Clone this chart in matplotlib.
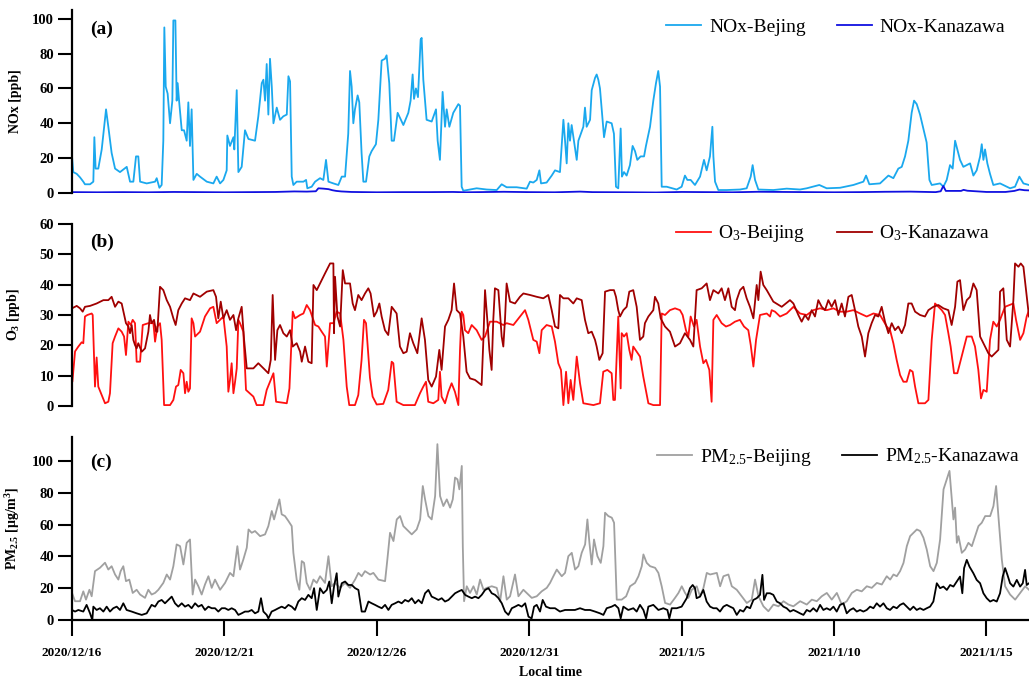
import numpy as np
import matplotlib
matplotlib.use("Agg")
import matplotlib.pyplot as plt
import matplotlib.dates as mdates
from matplotlib.ticker import FixedLocator, FuncFormatter

plt.rcParams['font.family'] = ['Liberation Serif', 'DejaVu Serif']
plt.rcParams['mathtext.fontset'] = 'custom'
plt.rcParams['mathtext.rm'] = 'Liberation Serif'
plt.rcParams['mathtext.bf'] = 'Liberation Serif:bold'
plt.rcParams['mathtext.it'] = 'Liberation Serif:italic'

START = '2020-12-16T00:00'
END_HOURS = 753.5
TICK_DAYS = [0, 5, 10, 15, 20, 25, 30]

# ---------------- NOx (ppb) ----------------
nox_bj_h = [0, 1.0, 3.7, 6.3, 8.9, 10.2, 14.2, 16.8, 17.6, 18.6, 20.7, 23.4, 26.8, 28.6, 31.2, 33.9, 37.8, 43.1,
            45.7, 48.3, 50.4, 52.2, 53.6, 58.8, 65.4, 66.7, 68.8, 70.6, 71.9, 72.7, 73.8, 75.3, 77.2, 79.0, 79.8,
            81.4, 82.4, 83.2, 84.3, 86.4, 88.2, 90.3, 91.6, 92.9, 94.2, 95.6, 98.2, 100.8, 106.1, 111.3, 113.9,
            116.6, 119.2, 121.8, 122.3, 124.4, 127.1, 127.8, 129.7, 131.0, 133.6, 136.2, 138.9, 144.1, 146.7,
            149.4, 150.7, 152.0, 153.3, 154.6, 155.9, 157.3, 158.6, 161.2, 163.8, 166.4, 169.1, 170.4, 171.7,
            173.0, 174.3, 176.9, 182.2, 184.3, 185.3, 188.7, 191.4, 195.3, 197.9, 200.0, 201.9, 205.8, 209.7,
            212.4, 215.0, 217.5, 218.9, 220.2, 221.5, 222.8, 224.9, 226.2, 228.0, 229.4, 231.5, 234.1, 235.9,
            239.3, 241.2, 243.8, 246.4, 247.7, 249.8, 251.7, 253.5, 256.4, 260.9, 264.8, 266.6, 268.2, 269.3,
            270.8, 272.4, 274.5, 275.3, 276.6, 279.2, 283.2, 286.6, 287.9, 289.7, 291.8, 293.7, 295.0, 297.1,
            300.2, 304.2, 305.5, 306.8, 308.1, 313.4, 318.6, 326.5, 334.4, 338.3, 342.2, 350.1, 358.0, 360.6,
            363.2, 365.9, 368.0, 369.3, 373.7, 377.7, 380.3, 384.2, 386.9, 388.2, 389.5, 390.8, 392.1, 393.4,
            397.4, 398.7, 402.6, 403.9, 405.2, 407.9, 409.2, 411.8, 413.1, 414.4, 415.7, 418.9, 421.0, 424.9,
            426.7, 428.3, 430.1, 432.0, 433.0, 434.6, 436.7, 439.3, 441.4, 443.3, 445.1, 447.7, 450.4, 451.9,
            455.1, 457.7, 459.8, 461.6, 463.0, 464.3, 468.2, 476.1, 480.0, 482.6, 484.5, 487.1, 490.5, 494.5,
            497.6, 499.7, 502.3, 504.2, 505.0, 506.3, 508.9, 515.5, 526.0, 531.2, 534.4, 535.9, 537.8, 540.4,
            552.2, 562.7, 573.2, 578.5, 588.4, 594.2, 604.7, 615.2, 623.1, 625.2, 627.8, 636.2, 642.8, 646.7,
            650.6, 653.3, 655.9, 658.5, 661.1, 663.0, 665.1, 667.7, 670.9, 672.9, 675.1, 676.9, 683.5, 686.1,
            688.7, 691.3, 693.4, 695.3, 697.1, 699.2, 701.8, 704.5, 707.1, 709.7, 712.3, 715.0, 716.3, 717.6,
            718.9, 720.7, 722.8, 725.4, 730.7, 738.6, 742.5, 745.9, 749.1, 753.5]
nox_bj = [21, 12, 11, 9, 6.5, 5, 5, 6.5, 32, 14, 14, 25, 48, 38, 23, 14, 12, 15,
          6.5, 6.5, 21, 21, 6.5, 5.5, 6.5, 8.5, 3, 4.6, 30, 95, 61, 57, 40, 53, 99,
          99, 53, 63, 53, 36, 36, 30, 52, 27, 48, 7.5, 11, 9.4, 6.5, 5.5, 9.4,
          5.5, 7.5, 13, 33, 27, 32, 25, 59, 12, 15, 36, 31, 30, 44,
          63, 65, 53, 74, 45, 77, 61, 40, 49, 42, 44, 45, 67, 64,
          9.4, 4.6, 6.5, 6.5, 7.5, 2.7, 3.6, 6.5, 8.5, 7.5, 19, 6.5, 5.5, 4.6,
          9.4, 9.4, 34, 70, 61, 40, 48, 56, 52, 23, 6.5, 6.5, 21, 24,
          28, 42, 76, 77, 79, 63, 30, 30, 46, 39, 46, 53, 68, 54,
          60, 55, 88, 89, 65, 42, 41, 48, 30, 19, 58, 38, 48, 38,
          46, 51, 50, 3.6, 1.3, 2, 2.7, 2, 1.7, 5, 3.3, 3.3, 2.5, 6.5,
          6, 7.5, 13, 5.5, 6, 10, 13, 12, 42, 30, 17, 40, 30, 39,
          19, 30, 38, 49, 38, 42, 59, 66, 68, 65, 60, 32, 41, 40,
          34, 3.6, 2.7, 37, 9.4, 12, 10, 16, 27, 24, 19, 21, 21, 27,
          38, 53, 63, 70, 61, 3.6, 3.6, 2, 3.6, 10, 7.5, 7.5, 4.6, 9.4,
          19, 13, 21, 38, 21, 6.5, 1.7, 1.7, 2, 2.7, 9.4, 16, 7.5, 2,
          1.7, 2.5, 2, 2.7, 4.6, 2.7, 3, 4.6, 6.5, 10, 5, 5.5, 10, 8.5,
          14, 15, 21, 30, 46, 53, 51, 45, 35, 29, 7.5, 4.6, 5.5, 3.6,
          7.5, 16, 14, 30, 25, 19, 15, 16, 17, 10, 13, 21, 28, 19,
          25, 17, 11, 4.6, 5.5, 2.7, 3.6, 9.4, 5.5, 4.6]

nox_kz_h = [0, 20, 40, 60, 80, 100, 120, 140, 160, 175, 185, 192, 194, 198, 202, 205, 208, 212, 220, 240, 260,
            280, 300, 310, 340, 360, 380, 400, 410, 440, 460, 480, 500, 520, 540, 560, 580, 600, 620, 640, 660,
            680, 684, 686, 688, 700, 702, 705, 720, 735, 742, 746, 750, 753.5]
nox_kz = [0.5, 0.4, 0.5, 0.4, 0.6, 0.5, 0.4, 0.5, 0.6, 0.9, 0.8, 1.0, 2.7, 2.5, 2.2, 1.6, 1.2, 0.9, 0.6, 0.4, 0.5,
          0.5, 0.6, 0.4, 0.7, 0.5, 0.4, 0.8, 0.5, 0.4, 0.3, 0.6, 0.5, 0.4, 0.7, 0.6, 0.5, 0.4, 0.5, 0.7, 0.8,
          0.5, 1.0, 4.0, 1.2, 1.2, 1.8, 1.3, 0.6, 0.6, 1.2, 2.0, 1.6, 1.5]

# ---------------- O3 (ppb) ----------------
o3_bj_h = [0, 0.3, 2.4, 5.0, 7.6, 8.9, 10.2, 12.1, 15.5, 16.3, 18.1, 19.4, 20.7, 23.4, 26.0, 28.6, 29.9, 32.0,
           33.9, 36.5, 39.1, 41.0, 42.5, 44.4, 46.2, 47.8, 49.6, 50.9, 53.6, 55.7, 60.1, 64.1, 65.4, 67.2, 69.3,
           70.6, 72.5, 77.2, 79.8, 81.9, 83.7, 85.6, 87.7, 89.0, 90.3, 91.6, 92.9, 94.2, 95.6, 96.9, 100.8,
           104.7, 108.7, 111.3, 112.6, 113.9, 116.6, 119.2, 121.8, 123.1, 124.4, 125.7, 127.1, 128.4, 129.7,
           131.0, 132.3, 134.9, 137.0, 142.8, 145.4, 150.7, 153.3, 155.9, 158.6, 160.7, 169.1, 171.2, 173.8,
           175.6, 179.6, 182.2, 184.8, 187.4, 191.4, 194.0, 196.6, 199.2, 200.6, 203.2, 205.8, 208.4, 211.1,
           213.7, 216.3, 218.3, 222.8, 225.4, 228.0, 229.9, 231.5, 234.6, 236.7, 239.9, 245.1, 249.0, 251.7,
           253.0, 255.6, 260.9, 270.0, 274.0, 276.6, 278.7, 280.5, 284.5, 288.4, 289.7, 291.0, 293.7, 296.3,
           298.9, 301.5, 304.2, 305.5, 306.8, 308.1, 309.4, 312.0, 314.7, 318.6, 322.5, 325.2, 329.1, 334.4,
           339.6, 342.2, 347.5, 352.7, 356.7, 359.3, 363.2, 365.9, 368.0, 369.8, 373.7, 377.7, 380.3, 382.9,
           385.0, 386.9, 389.0, 390.8, 392.6, 394.7, 397.4, 400.0, 402.6, 410.5, 415.7, 418.3, 421.5, 424.9,
           426.2, 427.5, 430.1, 432.0, 432.8, 434.6, 436.7, 438.8, 440.6, 441.9, 444.6, 447.2, 449.8, 453.8,
           457.7, 463.0, 464.3, 466.9, 470.8, 474.8, 478.7, 480.8, 483.4, 485.3, 487.1, 489.7, 491.8, 494.5,
           497.1, 499.2, 501.8, 503.6, 505.0, 507.6, 511.5, 514.9, 518.1, 522.0, 525.9, 529.1, 532.5, 534.4,
           536.5, 538.6, 541.7, 547.0, 549.6, 550.9, 553.5, 557.5, 562.7, 568.0, 573.2, 578.5, 583.7, 589.0,
           594.2, 599.5, 604.7, 610.0, 615.2, 620.5, 625.7, 631.0, 636.2, 641.5, 644.1, 646.7, 649.3, 652.0,
           654.6, 657.2, 659.8, 661.9, 663.8, 666.4, 671.6, 674.3, 676.9, 679.5, 682.1, 684.8, 687.4, 690.0,
           691.8, 694.5, 697.1, 700.5, 704.5, 708.4, 711.0, 713.6, 715.7, 717.6, 720.2, 722.8, 725.4, 728.1,
           730.7, 734.6, 741.2, 743.3, 746.5, 749.1, 751.7, 753.5]
o3_bj = [15.2, 8, 18, 19.6, 21, 20.7, 29.5, 30, 30.5, 30, 6.4, 16, 6.4, 3.6, 0.9, 1.4, 4.2, 20.7,
         22.9, 25.6, 24.5, 22.9, 16.8, 27.8, 26.7, 28.4, 27.3, 14.6, 14.6, 26.7, 27.3, 27.3, 21.2, 26.2, 27.3,
         21.8, 0.3, 0.3, 2, 6.4, 6.9, 11.9, 10.8, 4.2, 8, 4.7, 5.8, 28.9, 27.3, 22.9, 24.5,
         29.5, 32.2, 32.7, 30, 27.3, 28.4, 29.5, 19.6, 4.7, 8.6, 14.1, 4.2, 8, 12.4,
         28.4, 27.3, 24.5, 5.3, 3.1, 0.3, 0.3, 5.3, 8, 10.8, 1.4, 0.9, 5.8, 31.1,
         28.9, 30, 30.5, 33.3, 31.6, 26.7, 26.2, 24.5, 22.9, 13, 27.3, 27.3, 31.1, 30.5,
         21.8, 6.4, 0.3, 0.3, 3.6, 15.2, 28.4, 27.3, 9.3, 3.1, 0.5, 0.7, 5.3, 14.6,
         14.1, 1.4, 0.3, 0.3, 4.2, 6.4, 8, 1.4, 0.9, 2, 11.3, 3.1, 0.9, 4.7,
         7.5, 4.7, 0.3, 18.5, 31.1, 30, 25, 24, 26.7, 25, 21.8, 22.9, 27.8, 27.8,
         26.7, 27.3, 26.7, 29.5, 31.6, 28.4, 21.8, 21.2, 17.4, 25, 26.7, 26.2, 21.2, 14.1,
         11.9, 0.3, 11.3, 0.9, 8.6, 2, 16.3, 7.5, 0.9, 0.3, 0.9, 11.3, 11.9, 10.8,
         2, 2, 29.5, 5.8, 24, 22.9, 24, 18.5, 15.2, 19.6, 17.9, 16.3, 9.7, 0.9,
         0.3, 0.3, 30.5, 30, 31.6, 32.2, 31.6, 30, 25, 22.9, 29.5, 26.2, 28.4, 19.6,
         14.1, 15.2, 11.9, 1.4, 28.4, 30, 27.3, 26.2, 26.7, 27.8, 28.4, 26.2, 25, 20.1,
         13, 21.8, 30, 30.5, 29.5, 31.6, 31.1, 29.5, 30.5, 32.7, 30.5, 30, 31.6, 32.2,
         31.6, 32.2, 31.1, 31.1, 31.6, 30.5, 29.5, 30.5, 30, 26.2, 25, 20.7, 15.2, 10.2,
         8, 8, 11.9, 11.3, 6.4, 0.9, 0.9, 2, 21.8, 33.8, 32.7, 31.6, 30, 24,
         19.6, 10.8, 10.8, 16.3, 22.9, 22.9, 19.6, 11.9, 2.5, 5.3, 4.7, 21.8, 27.8, 26.2,
         28.4, 32.7, 33.8, 28.4, 21.8, 24, 29.5, 31.6]

o3_kz_h = [0, 3.7, 6.3, 8.4, 10.2, 14.2, 19.4, 24.7, 28.6, 31.2, 33.9, 36.5, 39.1, 42.5, 44.4, 45.7, 47.0, 48.3,
           49.6, 50.9, 52.2, 54.9, 57.5, 60.1, 61.4, 62.7, 64.6, 66.2, 67.2, 69.3, 71.9, 74.6, 77.2, 79.8, 81.6,
           83.7, 86.4, 89.0, 92.9, 95.6, 100.8, 106.1, 111.3, 113.4, 115.2, 117.1, 119.2, 121.8, 124.4, 127.1,
           129.2, 131.0, 133.6, 135.5, 137.6, 142.8, 146.7, 149.4, 152.0, 154.6, 156.5, 158.0, 159.9, 161.7,
           163.8, 166.4, 169.1, 171.7, 173.8, 176.9, 179.6, 180.9, 183.5, 186.1, 188.7, 190.1, 192.7, 195.3,
           199.2, 203.2, 205.8, 206.3, 207.1, 209.0, 211.1, 213.2, 215.0, 218.9, 221.0, 222.8, 225.4, 228.0,
           230.7, 233.3, 235.1, 237.8, 239.9, 242.0, 243.8, 246.4, 249.0, 251.7, 255.6, 258.2, 260.9, 263.5,
           266.1, 268.7, 271.9, 275.3, 277.9, 280.5, 283.2, 286.6, 289.2, 291.0, 293.7, 296.3, 298.9, 300.8,
           302.9, 305.5, 308.1, 310.7, 313.4, 317.3, 322.5, 323.9, 325.2, 327.0, 328.6, 330.4, 331.7, 333.0,
           335.7, 338.3, 339.6, 340.9, 342.2, 344.9, 348.8, 352.7, 355.4, 360.6, 365.9, 371.1, 375.0, 377.7,
           380.3, 382.9, 384.2, 386.9, 390.8, 394.7, 397.4, 401.3, 403.9, 406.5, 409.2, 411.8, 413.1, 415.2,
           417.8, 419.7, 423.6, 426.7, 428.3, 430.1, 431.5, 434.1, 436.7, 438.8, 441.9, 444.6, 447.2, 449.8,
           451.1, 453.8, 457.7, 459.0, 461.6, 463.5, 466.9, 470.8, 474.8, 478.7, 482.6, 486.6, 489.2, 491.8,
           495.8, 499.7, 502.3, 505.0, 508.9, 511.5, 514.1, 516.8, 519.4, 522.0, 523.3, 526.0, 528.6, 531.2,
           533.8, 536.5, 539.1, 540.4, 542.2, 544.3, 547.0, 552.2, 558.8, 565.3, 568.0, 571.9, 574.5, 577.1,
           579.8, 582.4, 585.0, 587.6, 590.3, 592.9, 595.5, 598.1, 600.8, 603.4, 606.0, 608.6, 611.3, 613.9,
           616.5, 619.1, 621.8, 624.4, 627.0, 629.6, 632.3, 634.9, 637.5, 640.1, 642.8, 645.4, 648.0, 650.6,
           653.3, 655.9, 658.5, 661.1, 663.8, 667.7, 671.6, 674.3, 678.2, 682.1, 686.1, 690.0, 692.6, 695.3,
           697.1, 699.2, 701.8, 704.5, 707.1, 709.7, 712.3, 715.0, 717.6, 721.5, 724.1, 726.8, 729.4, 730.7,
           733.3, 736.0, 738.6, 741.2, 742.5, 745.2, 747.0, 749.1, 751.2, 753.5]
o3_kz = [32.2, 33, 32.2, 31.1, 32.7, 33, 33.8, 34.9, 34.9, 36, 32.7, 34.4, 33.8, 27.3, 26.2, 24, 26.7, 21.8,
         20.1, 19, 20.7, 17.9, 19, 24.5, 30, 27.3, 28.4, 24.5, 24.5, 39.3, 38.2, 34.9, 32.7, 28.9, 26.7,
         31.6, 33.8, 35.5, 34.9, 37.1, 36, 37.7, 38.2, 36, 28.9, 34.4, 28.9, 31.6, 28.4, 30,
         25, 28.9, 32.7, 21.8, 12.4, 12.4, 14.1, 13, 11.9, 10.8, 15.2, 36.6, 15.2, 25,
         26.7, 24, 22.9, 25, 19.6, 20.7, 17.9, 14.6, 19.6, 14.6, 14.1, 39.9, 38.2, 40.4,
         43.7, 47, 47, 24, 42.6, 29.5, 26.2, 44.8, 40.4, 40.4, 33.8, 31.6, 36.6, 34.9,
         37.1, 38.8, 37.1, 29.5, 31.1, 33.8, 29.5, 25, 23.4, 32.7, 30.5, 19.6, 17.4, 17.9,
         24, 20.7, 17.4, 28.9, 21.8, 8.6, 6.4, 9.7, 18.5, 11.9, 26.2, 28.4, 31.6, 40.4,
         31.6, 30.5, 22.9, 11.3, 9.1, 8.6, 6.9, 21.8, 38.2, 28.4, 18.5, 11.9, 28.4, 38.8,
         38.2, 22.9, 19.6, 28.4, 40.4, 34.4, 33.8, 36, 37.1, 36.6, 36, 35.5, 36.6, 31.6,
         26.2, 25.6, 36.6, 35.5, 35.5, 33.8, 35.5, 34.9, 28.4, 24, 24.5, 21.8, 19.6, 15.2,
         17.4, 37.7, 38.2, 38.2, 36, 31.6, 29.5, 31.6, 32.7, 37.7, 38.2, 32.7, 21.8, 22.9,
         27.3, 29.5, 31.6, 36, 33.8, 28.9, 26.2, 24.5, 19.6, 20.7, 24, 21.8, 19.6, 38.2,
         38.8, 40.4, 34.9, 38.2, 37.1, 38.8, 34.9, 38.8, 32.7, 31.6, 34.9, 38.2, 39.3, 35.5,
         32.7, 28.9, 39.9, 34.9, 44.3, 39.9, 38.2, 34.4, 32.7, 34.9, 33.8, 30, 27.8, 30,
         28.4, 31.6, 29.5, 34.9, 32.7, 31.6, 34.9, 32.7, 34.9, 30, 33.8, 29.5, 36, 36.6,
         31.6, 26.2, 22.9, 16.3, 24, 27.3, 30, 29.5, 32.7, 27.8, 24, 27.3, 25, 26.2,
         24, 26.7, 33.8, 33.8, 31.1, 30, 29.5, 31.6, 32.7, 33.3, 32.2, 31.6, 26.7, 32.7,
         41, 41.5, 31.6, 34.9, 36, 40.4, 38.2, 22.9, 20.7, 17.4, 16.3, 17.4, 18.5, 37.7,
         38.8, 21.8, 19.6, 34.9, 47, 45.9, 47, 45.9, 38.2, 29.5]

# ---------------- PM2.5 (ug/m3) ----------------
pm_bj_h = [0, 2.4, 6.3, 8.9, 11.0, 13.7, 15.5, 18.1, 22.0, 26.0, 28.6, 31.2, 33.9, 36.5, 38.3, 40.4, 42.5, 45.1,
           47.8, 50.9, 53.6, 57.5, 60.1, 62.7, 65.4, 68.0, 71.9, 74.6, 77.2, 79.8, 82.4, 85.1, 87.7, 90.3, 92.9,
           95.0, 96.9, 99.5, 102.1, 104.7, 107.4, 110.0, 112.6, 116.6, 120.5, 124.4, 127.1, 130.2, 132.3, 134.9,
           137.6, 139.0, 141.5, 144.1, 148.1, 152.0, 154.6, 157.3, 159.1, 161.2, 163.3, 165.1, 167.7, 170.4,
           173.0, 174.3, 176.9, 179.0, 180.9, 182.7, 184.8, 187.4, 190.1, 192.7, 195.3, 199.2, 201.9, 204.5,
           207.1, 211.1, 215.0, 218.9, 222.9, 225.5, 228.1, 230.7, 234.7, 237.3, 241.2, 246.5, 248.3, 250.4,
           253.1, 255.7, 258.3, 260.9, 263.6, 267.5, 271.4, 274.1, 276.2, 278.0, 280.6, 283.2, 285.9, 287.7,
           289.8, 292.4, 295.1, 297.7, 299.8, 301.6, 303.5, 305.0, 306.9, 307.7, 308.7, 310.8, 313.4, 316.1,
           318.7, 321.3, 324.0, 326.6, 330.5, 334.4, 337.1, 339.7, 342.3, 344.9, 348.8, 351.5, 355.4, 358.0,
           362.0, 365.9, 369.8, 373.8, 376.4, 379.0, 381.7, 385.6, 388.2, 390.8, 393.5, 396.1, 398.7, 401.3,
           404.0, 405.8, 407.4, 409.2, 411.0, 413.7, 416.3, 418.4, 419.7, 422.3, 425.0, 426.8, 428.9, 432.8,
           436.3, 439.4, 443.3, 446.0, 448.6, 449.9, 452.5, 455.2, 459.1, 461.7, 464.3, 467.0, 470.9, 474.8,
           477.5, 480.1, 482.7, 485.3, 488.0, 491.9, 494.5, 497.2, 499.8, 502.4, 507.7, 510.3, 512.9, 516.8,
           519.5, 523.4, 527.3, 531.3, 535.2, 537.8, 540.5, 544.4, 548.3, 552.3, 556.2, 560.2, 564.1, 568.0,
           573.3, 578.5, 582.5, 586.4, 590.3, 594.3, 598.2, 602.2, 606.1, 610.0, 614.0, 617.9, 621.8, 625.8,
           629.7, 633.7, 637.6, 641.5, 644.2, 646.8, 649.4, 652.0, 654.7, 657.3, 659.9, 662.5, 665.2, 667.8,
           670.4, 673.0, 675.7, 678.3, 680.9, 683.5, 686.2, 688.8, 690.9, 692.7, 694.0, 695.3, 696.7, 698.0,
           700.6, 703.2, 705.8, 708.5, 711.1, 713.7, 716.3, 719.0, 722.9, 725.5, 727.6, 729.4, 732.1, 734.7,
           738.6, 742.6, 746.5, 750.5, 753.5]
pm_bj = [17, 11.8, 11.8, 18, 12.8, 19, 14.9, 30.7, 32.8, 36, 31.7, 33.8, 28.6, 25.4, 30.7, 33.8, 24.4, 25.4,
         17, 19, 16, 13.9, 19, 16, 17, 19, 23.3, 28.6, 25.4, 33.8, 47.5, 46.4, 34.9, 48.5, 50.6,
         16, 25.4, 21.2, 16, 22.3, 27.5, 20.2, 25.4, 19, 23.3, 29.6, 27.5, 46.4, 31.7, 38,
         45.4, 56.9, 54.8, 55.9, 52.7, 53.8, 59, 68.5, 63.2, 69.5, 75.8, 66.4, 65.3, 62.2,
         59, 42.2, 25.4, 19, 37, 35.9, 23.3, 19, 25.4, 23.3, 27.5, 23.3, 40.1, 21.2,
         23.3, 20.2, 23.3, 20.2, 25.4, 29.6, 27.5, 30.7, 28.6, 29.6, 25.4, 24.4, 38, 54.8,
         49.6, 63.2, 65.3, 59, 56.9, 53.8, 56.9, 63.2, 84.2, 75.8, 65.3, 63.2, 77.9, 110.5,
         77.9, 71.6, 75.8, 70.6, 75.8, 89.5, 88.4, 82.1, 96.8, 46.4, 11.8, 21.2, 17, 21.2,
         16, 25.4, 19, 20.2, 21.2, 20.2, 11.8, 27.5, 12.8, 14.9, 28.6, 14.9, 19, 17,
         13.9, 14.9, 18, 20.2, 23.3, 27.5, 31.7, 27.5, 29.6, 40.1, 42.2, 31.7, 33.8, 42.2,
         47.5, 63.2, 48.5, 34.9, 50.6, 40.1, 35.9, 46.4, 67.4, 65.3, 64.3, 61.1, 12.8, 12.8,
         14.9, 21.2, 23.3, 27.5, 33.8, 41.2, 35.9, 33.8, 32.8, 29.6, 21.2, 10.7, 9.7, 13.9,
         17, 21.2, 17, 13.9, 19, 21.2, 14.9, 20.2, 29.6, 28.6, 29.6, 21.2, 27.5, 28.6,
         21.2, 19, 14.9, 10.7, 12.8, 25.4, 14.9, 8.6, 5.5, 9.7, 8.6, 11.8, 9.7, 8.6,
         11.8, 9.7, 12.8, 11.8, 14.9, 17, 12.8, 17, 9.7, 11.8, 17, 19, 18, 21.2,
         20.2, 23.3, 22.3, 27.5, 25.4, 28.6, 27.5, 30.7, 35.9, 46.4, 52.7, 54.8, 56.9, 55.9,
         51.7, 44.3, 33.8, 30.7, 35.9, 50.6, 82.1, 88.4, 93.7, 75.8, 63.2, 70.6, 48.5, 52.7,
         42.2, 44.3, 48.5, 46.4, 52.7, 59, 61.1, 65.3, 65.3, 71.6, 84.2, 65.3, 38, 21.2,
         16, 12.8, 17, 21.2, 19]

pm_kz_h = [0, 2.4, 5.0, 8.9, 11.5, 14.2, 16.0, 16.8, 19.4, 22.0, 24.7, 27.3, 29.9, 32.5, 35.2, 37.8, 40.4, 43.0,
           47.0, 50.9, 54.9, 58.8, 62.7, 65.4, 68.0, 70.6, 73.2, 75.9, 78.5, 81.1, 83.7, 86.4, 89.0, 91.6, 94.2,
           96.9, 99.5, 102.1, 104.7, 107.4, 110.0, 112.6, 115.2, 117.9, 120.5, 123.1, 125.7, 128.4, 131.0, 133.6,
           136.2, 138.9, 141.5, 144.1, 146.7, 148.8, 150.7, 153.3, 154.6, 157.2, 159.9, 162.5, 165.1, 167.7,
           170.4, 173.0, 175.6, 178.2, 180.9, 183.5, 186.1, 188.7, 190.6, 192.7, 195.3, 197.9, 200.6, 202.6,
           204.5, 206.3, 208.4, 209.7, 212.4, 215.0, 217.6, 220.3, 222.9, 225.5, 228.1, 230.7, 233.4, 236.0,
           238.6, 241.2, 243.9, 246.5, 249.1, 251.7, 254.4, 257.0, 259.6, 262.2, 264.9, 267.5, 270.1, 272.8,
           275.4, 278.0, 280.6, 283.2, 285.9, 288.5, 291.1, 293.7, 296.4, 299.0, 301.6, 304.2, 306.9, 309.5,
           312.1, 314.8, 317.4, 320.0, 322.6, 325.3, 327.9, 330.5, 333.1, 335.8, 338.4, 341.0, 343.6, 346.3,
           348.9, 351.5, 354.1, 356.8, 359.4, 361.9, 363.8, 365.9, 368.5, 370.6, 373.2, 376.4, 380.3, 384.2,
           388.2, 392.1, 396.0, 400.0, 403.9, 407.9, 411.8, 415.7, 418.4, 421.0, 424.9, 427.5, 430.2, 432.0,
           434.1, 438.0, 442.0, 444.6, 447.2, 449.9, 452.0, 453.8, 457.7, 461.7, 465.6, 468.8, 470.3, 472.2,
           476.1, 480.0, 484.0, 486.6, 488.7, 490.5, 491.8, 494.5, 497.1, 499.7, 502.4, 505.0, 507.6, 510.2,
           512.9, 515.5, 518.1, 520.7, 523.4, 526.0, 528.6, 531.2, 533.9, 536.5, 539.1, 541.7, 543.6, 544.9,
           547.0, 549.6, 552.2, 554.9, 557.5, 560.1, 562.7, 565.4, 568.0, 570.6, 573.2, 575.9, 578.5, 581.1,
           583.7, 586.4, 589.0, 591.6, 594.2, 596.9, 599.5, 602.1, 604.7, 607.4, 610.0, 612.6, 615.2, 617.9,
           620.5, 623.1, 625.7, 628.4, 631.0, 633.6, 636.2, 638.9, 641.5, 644.1, 646.7, 649.4, 652.0, 654.6,
           657.2, 659.9, 662.5, 665.1, 667.7, 670.4, 673.0, 675.6, 678.2, 680.9, 683.5, 686.1, 688.8, 691.4,
           694.0, 696.6, 699.2, 701.0, 702.4, 704.5, 706.6, 709.7, 712.3, 715.0, 717.6, 720.2, 722.9, 725.5,
           728.1, 730.7, 732.8, 734.7, 736.5, 738.6, 741.2, 743.9, 746.5, 748.6, 750.4, 751.7, 753.5]
pm_kz = [6.3, 5.3, 6.3, 5.3, 9.5, 4.2, 0, 8.4, 6.3, 7.4, 5.3, 8.4, 5.3, 7.4, 8.4, 6.3, 10.5, 6.3,
         5.3, 4.2, 3.2, 4.2, 9.5, 8.4, 11.6, 12.6, 10.5, 12.6, 14.7, 10.5, 8.4, 10.5, 8.4, 9.5, 7.4,
         10.5, 8.4, 9.5, 6.3, 8.4, 7.4, 7.4, 5.3, 7.4, 7.4, 6.3, 7.4, 6.3, 3.2, 4.2,
         5.3, 5.3, 6.3, 4.2, 5.3, 13.7, 5.3, 3.2, 1, 5.3, 6.3, 7.4, 8.4, 7.4,
         9.5, 8.4, 6.3, 11.6, 13.7, 12.6, 15.8, 13.7, 20, 6.3, 20, 16.8, 18.9, 24.2,
         10.5, 21, 29.4, 14.7, 23.1, 24.2, 22, 22, 20, 18.9, 5.3, 5.3, 11.6, 10.5,
         9.5, 8.4, 7.4, 9.5, 6.3, 9.5, 10.5, 11.6, 10.5, 12.6, 11.6, 13.7, 10.5, 12.6,
         10.5, 16.8, 18.9, 14.7, 13.7, 12.6, 13.7, 11.6, 12.6, 14.7, 16.8, 17.9, 18.9, 15.8,
         14.7, 13.7, 14.7, 13.7, 15.8, 18.9, 20, 16.8, 15.8, 13.7, 10.5, 5.3, 3.2, 7.4,
         8.4, 9.5, 8.4, 10.5, 2.1, 1, 8.4, 9.5, 5.3, 12.6, 8.4, 7.4, 7.4, 5.3,
         6.3, 6.3, 6.3, 7.4, 6.3, 6.3, 5.3, 4.2, 3.2, 7.4, 8.4, 9.5, 7.4, 1,
         8.4, 6.3, 7.4, 5.3, 9.5, 6.3, 1, 8.4, 9.5, 6.3, 7.4, 6.3, 1, 7.4,
         7.4, 8.4, 13.7, 20, 22, 20, 13.7, 14.7, 18.9, 11.6, 8.4, 7.4, 7.4, 5.3,
         8.4, 9.5, 8.4, 7.4, 3.2, 6.3, 5.3, 8.4, 7.4, 12.6, 13.7, 15.8, 28.4, 12.6,
         16.8, 16.8, 15.8, 11.6, 10.5, 8.4, 7.4, 5.3, 6.3, 5.3, 4.2, 3.2, 6.3, 5.3,
         7.4, 5.3, 9.5, 6.3, 7.4, 6.3, 8.4, 5.3, 9.5, 10.5, 4.2, 6.3, 7.4, 5.3,
         6.3, 5.3, 6.3, 8.4, 7.4, 10.5, 8.4, 10.5, 7.4, 6.3, 8.4, 7.4, 9.5, 10.5,
         8.4, 6.3, 8.4, 6.3, 7.4, 6.3, 7.4, 8.4, 11.6, 23.1, 20, 21, 18.9, 22,
         21, 24.2, 27.3, 16.8, 32.6, 37.8, 33.6, 29.4, 25.2, 23.1, 16.8, 13.7, 11.6, 12.6,
         11.6, 16.8, 27.3, 32.6, 28.4, 23.1, 21, 25.2, 21, 23.1, 31.5, 22, 23.1]

# ---------------- styling ----------------
C_NOX_BJ = '#1aa8ee'
C_NOX_KZ = '#1010e0'
C_O3_BJ = '#ff1010'
C_O3_KZ = '#a00000'
C_PM_BJ = '#a0a0a0'
C_PM_KZ = '#000000'

t0 = np.datetime64(START)


def to_time(hours):
    return t0 + (np.asarray(hours) * 60).round().astype('timedelta64[m]')


W, H = 1029, 679
fig = plt.figure(figsize=(W / 100, H / 100), dpi=100)


def px_axes(top, bottom):
    left = 72 / W
    return fig.add_axes([left, 1 - bottom / H, 1 - left, (bottom - top) / H])


ax1 = px_axes(10, 193)
ax2 = px_axes(224, 406)
ax3 = px_axes(437, 620)

lw = 1.3
ax1.plot(to_time(nox_bj_h), nox_bj, color=C_NOX_BJ, lw=lw, label='NOx-Bejing')
ax1.plot(to_time(nox_kz_h), nox_kz, color=C_NOX_KZ, lw=lw, label='NOx-Kanazawa')
ax2.plot(to_time(o3_bj_h), o3_bj, color=C_O3_BJ, lw=lw, label=r'O$_\mathrm{3}$-Beijing')
ax2.plot(to_time(o3_kz_h), o3_kz, color=C_O3_KZ, lw=lw, label=r'O$_\mathrm{3}$-Kanazawa')
ax3.plot(to_time(pm_bj_h), pm_bj, color=C_PM_BJ, lw=lw, label=r'PM$_\mathrm{2.5}$-Beijing')
ax3.plot(to_time(pm_kz_h), pm_kz, color=C_PM_KZ, lw=lw, label=r'PM$_\mathrm{2.5}$-Kanazawa')

xmin = mdates.date2num(t0)
xmax = mdates.date2num(to_time([END_HOURS])[0])
tick_pos = [mdates.date2num(to_time([d * 24])[0]) for d in TICK_DAYS]


def fmt_date(x, pos):
    d = mdates.num2date(x)
    return f"{d.year}/{d.month}/{d.day}"


ylims = [(0, 105), (0, 60), (0, 115)]
yticks = [[0, 20, 40, 60, 80, 100], [0, 10, 20, 30, 40, 50, 60], [0, 20, 40, 60, 80, 100]]
ylabels = ['NOx [ppb]', r'O$_\mathbf{3}$ [ppb]', r'PM$_\mathbf{2.5}$ [μg/m$^\mathbf{3}$]']
letters = ['(a)', '(b)', '(c)']
letter_y = [0.895, 0.90, 0.86]

for i, ax in enumerate([ax1, ax2, ax3]):
    ax.set_xlim(xmin, xmax)
    ax.set_ylim(*ylims[i])
    ax.set_yticks(yticks[i])
    for s in ['top', 'right']:
        ax.spines[s].set_visible(False)
    ax.spines['left'].set_linewidth(1.6)
    ax.spines['bottom'].set_linewidth(1.6)
    ax.tick_params(axis='y', direction='out', length=10, width=1.5, labelsize=10.5, pad=3)
    for lab in ax.get_yticklabels():
        lab.set_fontweight('bold')
    ax.set_ylabel(ylabels[i], fontsize=10, fontweight='bold')
    ax.yaxis.set_label_coords(-0.052, 0.5)
    ax.text(0.019, letter_y[i], letters[i], transform=ax.transAxes, fontsize=14,
            fontweight='bold', va='center', ha='left')
    ax.patch.set_alpha(0)
    if i < 2:
        ax.spines['bottom'].set_visible(False)
        ax.tick_params(axis='x', which='both', bottom=False, labelbottom=False)

ax3.xaxis.set_major_locator(FixedLocator(tick_pos))
ax3.xaxis.set_major_formatter(FuncFormatter(fmt_date))
ax3.tick_params(axis='x', direction='out', length=11.5, width=1.5, labelsize=9.5, pad=8)
for lab in ax3.get_xticklabels():
    lab.set_fontweight('bold')
ax3.set_xlabel('Local time', fontsize=10, fontweight='bold', labelpad=5)

leg_kw = dict(ncol=2, frameon=False, fontsize=14, handlelength=1.8, handletextpad=0.4,
              columnspacing=1.6, borderaxespad=0, loc='center right')
ax1.legend(bbox_to_anchor=(1 - 16 / 957, (193 - 27) / 183), **leg_kw)
ax2.legend(bbox_to_anchor=(1 - 31 / 957, (406 - 234) / 182), **leg_kw)
ax3.legend(bbox_to_anchor=(1 - 1 / 957, (620 - 457) / 183), **leg_kw)

fig.savefig('out.png', dpi=100)
